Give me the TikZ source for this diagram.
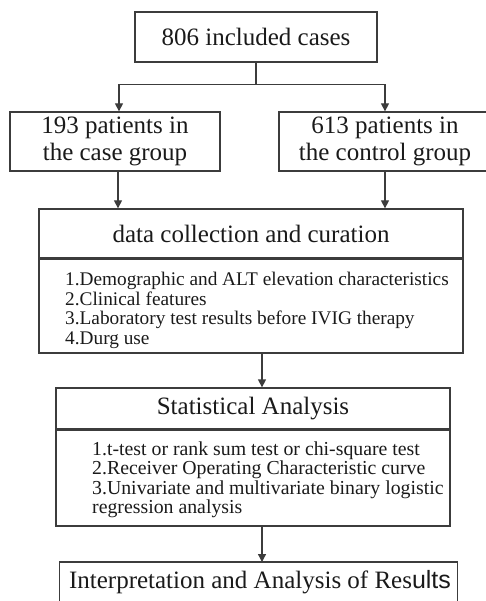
\documentclass[tikz,border=0pt]{standalone}
\usepackage{fontspec}
\setmainfont{Liberation Serif}
\newfontfamily\arialfont{Liberation Sans}
\usetikzlibrary{arrows.meta}
\definecolor{linecol}{HTML}{3C3C3C}
\definecolor{txtcol}{HTML}{1A1A1A}
\tikzset{
  box/.style={draw=linecol, line width=1.3pt, fill=none, inner sep=0pt, text=txtcol, font=\fontsize{25}{27}\selectfont},
  plainbox/.style={inner sep=0pt, text=txtcol, font=\fontsize{25}{27}\selectfont},
  items/.style={inner sep=0pt, text=txtcol, align=left, anchor=north west},
  conn/.style={draw=linecol, line width=1.3pt},
  arr/.style={conn, -{Triangle[length=8pt,width=8pt]}},
  divider/.style={draw=linecol, line width=2.6pt}
}
\begin{document}
\begin{tikzpicture}[x=1pt,y=-1pt]
\useasboundingbox (0,0) rectangle (485,601);
% top
\node[box, minimum width=242pt, minimum height=50pt] (top) at (256,37) {806 included cases};
% groups
\node[box, minimum width=210pt, minimum height=59pt, align=center] (left) at (115,141.5) {193 patients in\\the case group};
\node[box, minimum width=212pt, minimum height=59pt, align=center] (right) at (385,141.5) {613 patients in\\the control group};
% data collection
\node[box, minimum width=424pt, minimum height=49pt] (dt) at (251,233.5) {data collection and curation};
\node[box, minimum width=424pt, minimum height=95pt] (di) at (251,305.5) {};
\draw[divider] (dt.south west) -- (dt.south east);
\node[items, font=\fontsize{19.3}{19.5}\selectfont] (dtext) at (65,272) {1.Demographic and ALT elevation characteristics\\2.Clinical features\\3.Laboratory test results before IVIG therapy\\4.Durg use};
% statistical analysis
\node[box, minimum width=394pt, minimum height=41pt] (st) at (253,408.5) {Statistical Analysis};
\node[box, minimum width=394pt, minimum height=97pt] (si) at (253,477.5) {};
\draw[divider] (st.south west) -- (st.south east);
\node[items, font=\fontsize{19.8}{19.5}\selectfont] (stext) at (92,441.5) {1.t-test or rank sum test or chi-square test\\2.Receiver Operating Characteristic curve\\3.Univariate and multivariate binary logistic\\regression analysis};
% results (cut off at bottom)
\node[inner sep=0pt, minimum width=397pt, minimum height=50pt, anchor=north] (resbox) at (258.5,562) {};
\draw[conn] (resbox.south west) -- (resbox.north west) -- (resbox.north east) -- (resbox.south east);
\node[plainbox, anchor=base] (restext) at (260,588) {Interpretation and Analysis of Res{\arialfont ults}};
% connectors
\draw[conn] (top.south) -- ++(0,22) coordinate (split);
\draw[arr] (split) -| ([xshift=4pt]left.north);
\draw[arr] (split) -| (right.north);
\draw[arr] ([xshift=3pt]left.south) -- ([xshift=3pt]left.south |- dt.north);
\draw[arr] (right.south) -- (right.south |- dt.north);
\draw[arr] ([xshift=11pt]di.south) -- ([xshift=11pt]di.south |- st.north);
\draw[arr] ([xshift=9pt]si.south) -- ([xshift=9pt]si.south |- resbox.north);
\end{tikzpicture}
\end{document}
